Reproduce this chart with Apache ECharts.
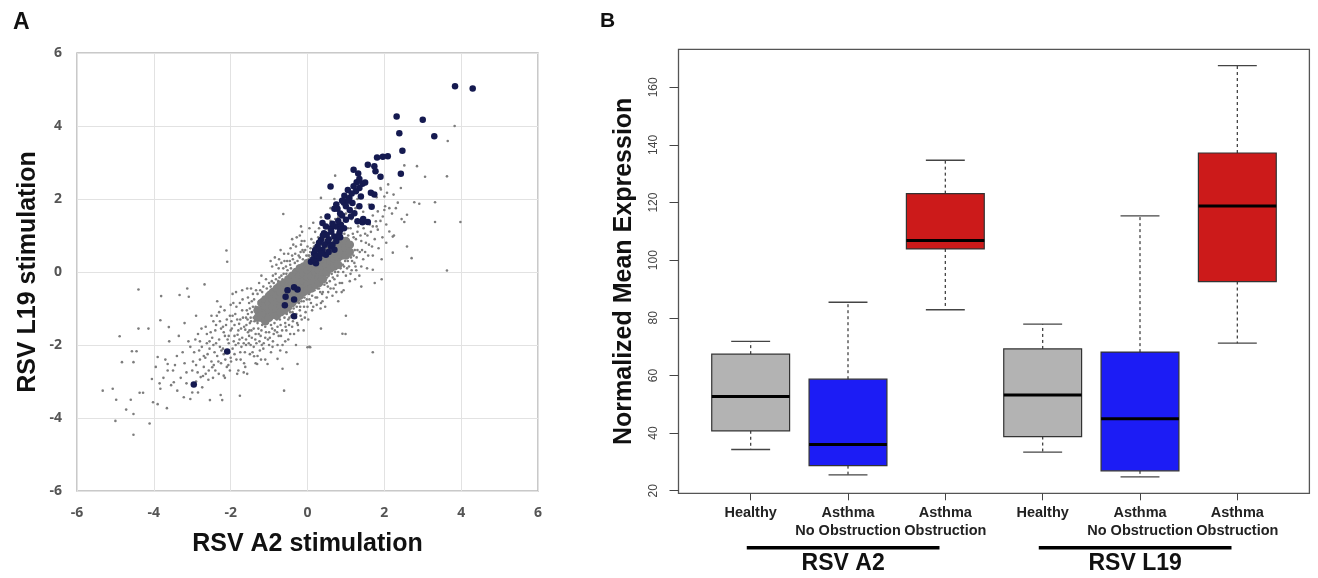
<!DOCTYPE html>
<html>
<head>
<meta charset="utf-8">
<script src="https://cdn.jsdelivr.net/npm/echarts@6/dist/echarts.min.js"></script>
<style>
html,body{margin:0;padding:0;background:#fff;}
#chart{width:1318px;height:578px;}
</style>
</head>
<body>
<div id="chart"></div>
<script>
// ---------- Panel A data (log-fold change, RSV A2 vs RSV L19) ----------
const greyPoints = [
  [3.83,4.0],[3.65,3.59],[2.52,2.92],[2.85,2.9],[3.06,2.61],[3.63,2.62],[2.43,2.3],[2.78,1.91],[2.91,1.87],
  [2.59,1.57],[3.32,1.91],[3.32,1.37],[3.98,1.37],[2.24,2.12],[2.3,1.75],[2.52,1.37],[2.13,1.11],[2.22,0.97],
  [2.59,0.7],[2.71,0.38],[2.22,0.53],[1.93,0.35],[1.7,0.06],[1.93,-0.2],[3.63,0.04],[0.72,2.64],[0.35,2.03],
  [0.7,2.0],[0.74,1.89],[1.91,2.26],[2.0,2.07],[2.07,2.17],[2.02,1.8],[2.13,1.75],[1.83,1.66],[1.96,1.52],
  [1.78,1.39],[1.7,1.25],[1.83,1.16],[-0.63,1.59],[-0.17,1.25],[1.7,-2.2],[0.99,-1.7],[1.0,-1.2],
  [-2.11,0.59],[-2.09,0.28],[-4.4,-0.48],[-3.81,-0.66],[-4.89,-1.76],[-4.4,-1.55],[-4.14,-1.55],[-4.57,-2.17],
  [-4.45,-2.17],[-4.83,-2.47],[-4.53,-2.47],[-5.33,-3.25],[-5.07,-3.2],[-4.98,-3.5],[-4.6,-3.5],[-4.72,-3.77],
  [-4.53,-3.89],[-5.0,-4.08],[-4.11,-4.15],[-4.53,-4.46],[-4.37,-3.31],[-4.28,-3.31],[-4.05,-2.93],[-4.02,-3.57],
  [-3.9,-3.62],[-3.66,-3.73],[-3.9,-2.33],[-3.64,-2.52],[-3.64,-2.7],[-3.83,-1.32],[-3.61,-1.51],[-3.33,-0.63],
  [-3.13,-0.45],[-3.09,-0.68],[-2.68,-0.34],[-3.85,-3.05],[-3.83,-3.2],[-3.48,-3.02],[-3.39,-3.25],[-3.22,-3.43],
  [-3.05,-3.48],[-2.74,-3.16],[-2.54,-3.51],[-2.26,-3.37],[-2.22,-3.51],[-1.76,-3.39],[-0.61,-3.25],
  [-2.78,-2.88],[-2.65,-2.79],[-2.57,-2.7],[-2.48,-2.61],[-2.31,-2.79],[-2.18,-2.84],[-2.02,-2.7],[-1.83,-2.79],
  [-1.66,-2.75],[-1.57,-2.79],[-1.39,-2.31],[-1.31,-2.52],[-1.04,-2.52],[-0.78,-2.38],[-0.65,-2.65],[-0.26,-2.52],
  [0.0,-2.06],[0.07,-2.06],[0.91,-1.69],[0.35,-1.55],
  [-3.4,-2.3],[-3.3,-2.9],[-3.2,-2.5],[-3.1,-1.9],[-3.0,-2.7],[-2.95,-2.2],[-2.9,-3.0],[-2.85,-1.7],[-2.8,-2.4],
  [-2.75,-2.05],[-2.7,-2.6],[-2.65,-1.5],[-2.6,-2.25],[-2.55,-1.9],[-2.5,-2.45],[-2.5,-1.2],[-3.6,-1.9],[-3.5,-2.7],
  [-3.7,-2.4],[-3.2,-1.4],[-2.9,-1.2],[-3.0,-3.3],
  [-2.45,-2.0],[-2.4,-1.6],[-2.4,-2.7],[-2.35,-2.3],[-2.3,-1.85],[-2.3,-1.1],[-2.25,-2.5],[-2.2,-1.5],[-2.2,-2.1],
  [-2.15,-1.75],[-2.1,-2.6],[-2.1,-1.3],[-2.05,-1.95],[-2.0,-1.6],[-2.0,-2.35],[-2.0,-0.9],[-2.45,-1.35],[-2.35,-0.8],
  [-2.15,-2.9],[-2.25,-1.55],
  [-1.95,-1.2],[-1.95,-2.1],[-1.9,-1.75],[-1.9,-1.45],[-1.85,-2.4],[-1.85,-0.95],[-1.8,-1.6],[-1.8,-1.95],[-1.75,-1.3],
  [-1.75,-2.2],[-1.7,-1.05],[-1.7,-1.8],[-1.65,-1.5],[-1.65,-2.5],[-1.6,-1.25],[-1.6,-2.0],[-1.55,-0.7],[-1.55,-1.65],
  [-1.5,-1.4],[-1.5,-2.25],[-1.5,-1.0],[-1.95,-0.6],[-1.8,-2.7],[-1.7,-0.5],[-1.6,-1.85],[-1.55,-1.15],
  [-1.45,-1.8],[-1.45,-0.8],[-1.4,-1.25],[-1.4,-1.55],[-1.4,-2.05],[-1.35,-0.95],[-1.35,-1.7],[-1.3,-0.6],[-1.3,-1.4],
  [-1.3,-2.3],[-1.25,-1.1],[-1.25,-1.9],[-1.2,-0.75],[-1.2,-1.6],[-1.2,-1.3],[-1.15,-0.4],[-1.15,-2.1],[-1.1,-1.0],
  [-1.1,-1.5],[-1.1,-1.8],[-1.05,-0.65],[-1.05,-1.25],[-1.0,-0.3],[-1.0,-1.65],[-1.0,-0.9],[-1.45,-1.1],[-1.35,-2.5],
  [-1.2,-0.1],[-1.1,-2.4],[-1.0,-2.0],
  [-0.95,-1.45],[-0.95,-0.5],[-0.9,-1.15],[-0.9,-1.9],[-0.9,-0.1],[-0.85,-0.75],[-0.85,-1.6],[-0.8,-0.35],[-0.8,-1.3],
  [-0.75,0.1],[-0.75,-1.75],[-0.7,-0.55],[-0.7,-1.45],[-0.65,-0.2],[-0.65,-2.0],[-0.6,-1.25],[-0.6,0.3],[-0.55,-1.6],
  [-0.55,-0.05],[-0.5,-1.3],[-0.5,0.5],[-0.5,-1.85],[-0.85,0.4],[-0.7,0.6],[-0.6,-1.0],[-0.95,-2.2],
  [-0.45,0.2],[-0.45,-1.1],[-0.4,-1.5],[-0.4,0.45],[-0.35,-0.15],[-0.35,-1.7],[-0.3,0.7],[-0.3,-1.25],[-0.25,0.1],
  [-0.25,-1.45],[-0.2,0.4],[-0.2,-1.05],[-0.15,0.85],[-0.15,-1.3],[-0.1,-0.8],[-0.1,0.55],[-0.05,-1.1],[-0.05,0.25],
  [0.0,-0.95],[0.0,0.7],[-0.2,1.0],[-0.4,0.9],[-0.1,-1.6],[-0.3,-2.0],[0.05,-2.05],
  [0.05,0.45],[0.05,-0.75],[0.1,-0.5],[0.1,0.9],[0.15,-0.95],[0.15,0.6],[0.2,-0.3],[0.2,1.1],[0.25,-0.7],[0.25,0.8],
  [0.3,-0.45],[0.3,1.2],[0.35,-0.15],[0.35,-0.85],[0.4,0.95],[0.4,-0.55],[0.45,0.05],[0.45,1.3],[0.5,-0.3],[0.5,0.9],
  [0.5,-0.7],[0.15,1.35],[0.35,1.5],[0.05,1.2],
  [0.55,1.15],[0.55,-0.1],[0.6,-0.45],[0.6,1.4],[0.65,0.05],[0.65,1.0],[0.7,-0.2],[0.7,1.25],[0.75,0.2],[0.75,-0.55],
  [0.8,1.5],[0.8,0.0],[0.85,0.35],[0.85,1.1],[0.9,-0.3],[0.9,1.35],[0.95,0.15],[0.95,0.85],[1.0,1.6],[1.0,-0.1],
  [0.6,1.75],[0.7,1.85],[0.8,-0.8],[0.95,0.5],
  [1.05,0.3],[1.05,1.2],[1.1,0.7],[1.1,-0.25],[1.15,1.45],[1.15,0.05],[1.2,0.95],[1.2,0.45],[1.25,1.75],[1.25,0.15],
  [1.3,1.1],[1.3,0.6],[1.35,1.4],[1.35,-0.1],[1.4,0.85],[1.45,1.65],[1.45,0.35],[1.5,1.05],[1.5,0.55],[1.1,1.9],
  [1.3,2.0],[1.4,-0.4],
  [1.55,1.35],[1.55,0.1],[1.6,1.85],[1.6,0.75],[1.65,1.1],[1.7,0.45],[1.7,1.55],[1.75,0.9],[1.8,1.25],[1.8,2.05],
  [1.85,0.65],[1.9,1.4],[1.95,0.95],[2.0,1.7],[1.65,2.2],[1.75,-0.3],[1.9,2.3],
  [2.05,1.3],[2.1,2.4],[2.2,1.6],[2.25,1.0],[2.35,1.9],[2.45,1.45],[2.05,0.8],
  [-1.98,-1.35],[-1.92,-1.9],[-1.88,-1.15],[-1.82,-1.72],[-1.78,-1.42],[-1.72,-2.05],[-1.68,-1.25],[-1.62,-1.58],
  [-1.58,-1.05],[-1.52,-1.75],[-1.9,-2.25],[-1.76,-0.85],[-1.66,-1.95],[-1.56,-1.3],[-1.52,-0.85],[-2.05,-1.75],
  [-2.12,-1.45],[-2.18,-2.25],[-2.28,-2.05],[-2.38,-1.45],[-2.42,-2.2],[-2.55,-2.1],[-2.62,-1.7],[-2.7,-2.3],
  [-2.8,-1.9],[-2.9,-2.55],
  [-1.48,-1.25],[-1.46,-1.6],[-1.42,-0.95],[-1.38,-1.35],[-1.36,-1.85],[-1.32,-1.15],[-1.28,-1.55],[-1.26,-0.8],
  [-1.22,-1.75],[-1.18,-1.45],[-1.16,-0.95],[-1.12,-1.25],[-1.08,-1.65],[-1.06,-0.45],[-1.04,-1.4],[-1.02,-0.75],
  [-1.48,-2.0],[-1.42,-0.6],[-1.24,-2.15],[-1.14,-1.95],[-1.34,-0.5],[-1.18,-0.55],
  [-0.98,-1.3],[-0.96,-0.4],[-0.92,-1.55],[-0.88,-0.3],[-0.86,-1.4],[-0.82,-0.2],[-0.78,-1.5],[-0.76,-0.25],
  [-0.72,-1.3],[-0.68,-0.1],[-0.66,-1.6],[-0.62,-0.05],[-0.58,-1.4],[-0.56,0.15],[-0.54,-1.15],[-0.52,0.05],
  [-0.98,-1.8],[-0.88,-1.7],[-0.78,-2.0],[-0.68,0.25],[-0.58,-1.9],[-0.92,0.15],[-0.74,0.35],
  [-0.48,-1.05],[-0.46,0.3],[-0.42,-1.2],[-0.38,0.35],[-0.36,-1.0],[-0.32,0.5],[-0.28,-0.95],[-0.26,0.3],
  [-0.22,-0.85],[-0.18,0.55],[-0.16,-0.8],[-0.12,0.35],[-0.08,-0.7],[-0.06,0.6],[-0.02,-0.75],[-0.48,-1.45],
  [-0.38,-1.35],[-0.28,0.95],[-0.18,-1.2],[-0.08,0.85],[-0.44,0.65],[-0.24,-1.6],
  [0.02,0.45],[0.04,-0.6],[0.08,0.65],[0.12,-0.65],[0.16,0.8],[0.18,-0.5],[0.22,0.6],[0.26,-0.45],[0.28,0.95],
  [0.32,-0.35],[0.36,0.75],[0.38,-0.6],[0.42,0.9],[0.44,-0.35],[0.48,0.75],[0.12,-1.05],[0.24,-0.9],[0.34,-1.0],
  [0.46,-0.95],[0.02,-1.3],
  [0.52,0.05],[0.56,0.75],[0.58,-0.25],[0.62,0.9],[0.66,-0.15],[0.68,0.85],[0.72,0.0],[0.76,1.0],[0.78,-0.1],
  [0.82,0.95],[0.86,0.1],[0.88,1.2],[0.92,0.2],[0.96,1.05],[0.98,0.3],[0.54,-0.55],[0.68,-0.45],[0.84,-0.3],
  [0.94,-0.5],[0.72,1.45],
  [1.02,0.45],[1.06,1.0],[1.08,0.15],[1.12,1.2],[1.16,0.3],[1.18,1.05],[1.22,0.25],[1.26,0.9],[1.28,0.4],
  [1.32,1.25],[1.36,0.55],[1.38,1.0],[1.42,0.6],[1.46,1.2],[1.52,0.8],[1.56,1.0],[1.12,-0.05],[1.24,-0.2],
  [1.4,0.15],[1.58,0.45],[1.62,1.3],[1.68,0.7],
  [-2.98,-2.45],[-2.92,-1.85],[-2.86,-2.75],[-2.82,-2.15],[-2.76,-1.55],[-2.72,-2.85],[-2.66,-2.35],[-2.62,-1.95],
  [-2.58,-2.95],[-2.52,-1.65],[-3.05,-2.05],[-3.15,-2.75],[-3.25,-2.2],[-3.35,-1.75],[-3.45,-2.55],[-3.55,-3.1],
  [-3.15,-3.05],[-2.85,-3.3],[-3.75,-2.9],[-3.95,-2.6],
  [-2.48,-1.8],[-2.44,-2.55],[-2.38,-1.95],[-2.32,-2.45],[-2.28,-1.35],[-2.24,-2.15],[-2.18,-1.65],[-2.14,-2.4],
  [-2.08,-1.85],[-2.04,-2.2],[-2.02,-1.2],[-2.36,-1.2],[-2.26,-0.95],[-2.06,-2.55],[-2.46,-2.9],[-2.16,-1.05],
  [-1.97,-1.55],[-1.93,-0.85],[-1.87,-2.0],[-1.83,-1.3],[-1.77,-1.85],[-1.73,-1.55],[-1.69,-0.75],[-1.63,-2.2],
  [-1.59,-1.45],[-1.53,-1.95],[-1.51,-1.6],[-1.99,-2.45],[-1.86,-0.55],[-1.74,-2.4],[-1.57,-0.45],[-1.62,-2.6],
  [-1.47,-1.35],[-1.43,-2.2],[-1.39,-0.75],[-1.33,-1.95],[-1.29,-1.0],[-1.27,-1.7],[-1.23,-0.5],[-1.19,-2.0],
  [-1.13,-0.7],[-1.09,-1.35],[-1.03,-1.85],[-1.01,-0.55],[-1.47,-0.45],[-1.26,-0.3],[-1.08,-0.2],[-1.21,-2.4],
  [-0.97,-1.0],[-0.93,-0.25],[-0.87,-1.25],[-0.83,-0.05],[-0.79,-1.65],[-0.73,-0.15],[-0.69,-1.75],[-0.63,0.1],
  [-0.57,-1.5],[-0.53,0.3],[-0.91,-2.05],[-0.81,0.2],[-0.71,-2.15],[-0.61,0.5],[-0.96,0.3],[-0.55,-2.2],
  [-0.47,-1.25],[-0.43,0.1],[-0.39,-1.1],[-0.33,0.25],[-0.29,-1.15],[-0.23,0.45],[-0.19,-0.95],[-0.13,0.6],
  [-0.09,-0.95],[-0.03,0.45],[-0.37,0.75],[-0.27,-1.4],[-0.17,0.75],[-0.07,-1.25],[-0.45,-1.7],[-0.14,1.1],
  [0.03,-0.45],[0.07,0.55],[0.13,-0.3],[0.17,0.7],[0.23,-0.25],[0.27,0.55],[0.33,-0.55],[0.37,0.6],[0.43,-0.15],
  [0.47,0.55],[0.53,-0.4],[0.57,0.35],[0.09,-0.85],[0.21,-0.7],[0.39,-0.8],[0.51,-0.15],
  [0.63,-0.05],[0.67,0.55],[0.73,-0.35],[0.77,0.3],[0.83,0.15],[0.87,0.7],[0.93,0.0],[0.97,0.6],[1.03,0.1],
  [1.07,0.55],[1.13,0.4],[1.17,0.75],[1.23,0.6],[1.27,0.05],[0.65,-0.65],[0.89,-0.55]
];
const corePoints = [
  [-1.3,-1.05],[-1.3,-1.25],[-1.2,-0.85],[-1.2,-1.05],[-1.2,-1.25],[-1.1,-0.75],[-1.1,-0.95],[-1.1,-1.15],[-1.1,-1.35],
  [-1.0,-0.65],[-1.0,-0.85],[-1.0,-1.05],[-1.0,-1.25],[-0.9,-0.55],[-0.9,-0.75],[-0.9,-0.95],[-0.9,-1.15],
  [-0.8,-0.45],[-0.8,-0.65],[-0.8,-0.85],[-0.8,-1.05],[-0.8,-1.2],[-0.7,-0.35],[-0.7,-0.55],[-0.7,-0.75],[-0.7,-0.95],
  [-0.7,-1.1],[-0.6,-0.3],[-0.6,-0.5],[-0.6,-0.7],[-0.6,-0.9],[-0.6,-1.05],[-0.5,-0.2],[-0.5,-0.4],[-0.5,-0.6],
  [-0.5,-0.8],[-0.5,-0.95],[-0.4,-0.1],[-0.4,-0.3],[-0.4,-0.5],[-0.4,-0.7],[-0.4,-0.85],[-0.3,0.0],[-0.3,-0.2],
  [-0.3,-0.4],[-0.3,-0.6],[-0.3,-0.75],[-0.2,0.1],[-0.2,-0.1],[-0.2,-0.3],[-0.2,-0.5],[-0.2,-0.65],[-0.1,0.15],
  [-0.1,-0.05],[-0.1,-0.25],[-0.1,-0.45],[-0.1,-0.55],[0.0,0.25],[0.0,0.05],[0.0,-0.15],[0.0,-0.35],[0.0,-0.5],
  [0.1,0.3],[0.1,0.1],[0.1,-0.1],[0.1,-0.3],[0.1,-0.45],[0.2,0.4],[0.2,0.2],[0.2,0.0],[0.2,-0.2],[0.2,-0.35],
  [0.3,0.45],[0.3,0.25],[0.3,0.05],[0.3,-0.15],[0.3,-0.3],[0.4,0.55],[0.4,0.35],[0.4,0.15],[0.4,-0.05],[0.4,-0.2],
  [0.5,0.6],[0.5,0.4],[0.5,0.2],[0.5,0.0],[0.6,0.7],[0.6,0.5],[0.6,0.3],[0.6,0.1],[0.7,0.75],[0.7,0.55],[0.7,0.35],
  [0.7,0.15],[0.8,0.8],[0.8,0.6],[0.8,0.4],[0.8,0.2],[0.9,0.85],[0.9,0.65],[0.9,0.45],[1.0,0.85],[1.0,0.65],
  [1.0,0.45],[1.1,0.75],[1.1,0.55]
];
const navyPoints = [
  [3.84,5.09],[4.30,5.03],[2.32,4.26],[3.0,4.17],[2.39,3.8],[3.3,3.72],[2.47,3.32],[1.81,3.14],[1.96,3.16],[2.09,3.17],
  [1.57,2.94],[1.74,2.9],[1.77,2.76],[1.9,2.61],[2.43,2.69],[1.2,2.8],[1.32,2.7],[0.6,2.34],[1.28,2.46],[1.43,2.42],
  [1.35,2.3],[1.26,2.21],[1.65,2.17],[1.74,2.12],[0.96,2.09],[1.09,2.03],[1.39,2.07],[1.17,1.89],[1.35,1.8],[1.0,1.8],
  [0.7,1.73],[0.78,1.73],[1.67,1.79],[1.43,1.36],[1.57,1.37],[1.3,1.39],[0.52,1.52],[0.39,1.34],[0.48,1.25],[0.61,1.2],
  [0.74,1.25],[0.87,1.29],[1.0,1.43],[1.13,1.52],[1.22,1.61],[0.43,1.06],[0.35,0.88],[0.52,0.83],[0.7,0.97],[0.83,1.06],
  [0.26,0.7],[0.39,0.61],[0.61,0.7],[0.17,0.51],[0.3,0.38],[0.09,0.28],[0.48,0.47],[0.7,0.61],[0.22,0.24],
  [0.15,0.35],[0.25,0.45],[0.3,0.62],[0.45,0.75],[0.55,0.9],[0.5,1.02],[0.62,1.1],[0.65,1.32],[0.8,1.4],[0.85,1.6],
  [0.9,1.55],[0.95,1.9],[1.05,1.95],[1.1,1.7],[1.15,2.15],[1.2,2.35],[1.05,2.25],[0.75,1.85],[0.85,1.15],[0.95,1.2],
  [0.55,0.55],[0.35,0.5],[0.2,0.6],[0.65,0.75],[0.75,0.85],[0.4,1.0],[0.3,0.8],[1.35,2.55],[1.5,2.45],[0.9,1.95],
  [1.45,1.45],[0.85,0.95],
  [-0.52,-0.5],[-0.35,-0.42],[-0.26,-0.48],[-0.57,-0.68],[-0.59,-0.91],[-0.35,-0.75],[-0.35,-1.21],[-2.09,-2.18],[-2.96,-3.08]
];
const axisTicksA = [-6,-4,-2,0,2,4,6];

// ---------- Panel B data (boxplots) ----------
const categories = ['Healthy','Asthma\nNo Obstruction','Asthma\nObstruction','Healthy','Asthma\nNo Obstruction','Asthma\nObstruction'];
const whiskerLow  = [34.3, 25.5, 82.8, 33.4, 24.8, 71.2];
const quartile1   = [40.8, 28.7, 103.9, 38.8, 26.9, 92.6];
const medians     = [52.7, 36.0, 106.8, 53.2, 45.0, 118.8];
const quartile3   = [67.4, 58.7, 123.1, 69.2, 68.1, 137.2];
const whiskerHigh = [71.8, 85.4, 134.7, 77.8, 115.4, 167.5];
const outliers    = [[2, 153.5]];
const groupNames  = ['RSV A2', 'RSV L19'];
const groupStart  = [0, 3];
const groupEnd    = [2, 5];
const yTicksB     = [20, 40, 60, 80, 100, 120, 140, 160];

// ---------- styles ----------
const boxColors = ['#b3b3b3', '#1c1cf5', '#cc1a1a', '#b3b3b3', '#1c1cf5', '#cc1a1a'];
const FONT = '"Liberation Sans", Arial, sans-serif';

const boxData = categories.map((c, i) => [i, whiskerLow[i], quartile1[i], medians[i], quartile3[i], whiskerHigh[i]]);
const groupData = groupNames.map((g, k) => [groupStart[k], groupEnd[k], k]);

const chart = echarts.init(document.getElementById('chart'), null, {renderer: 'canvas'});

const option = {
  animation: false,
  backgroundColor: '#ffffff',
  title: [
    {text: 'A', left: 8, top: 6, textStyle: {fontFamily: FONT, fontWeight: 'bold', fontSize: 23, color: '#111'}},
    {text: 'B', left: 595, top: 6, textStyle: {fontFamily: FONT, fontWeight: 'bold', fontSize: 21, color: '#111'}}
  ],
  grid: [
    {left: 77, right: 780, top: 53, bottom: 87, show: true, borderColor: '#b8b8b8', borderWidth: 1.5, backgroundColor: 'transparent'},
    {left: 678.5, right: 8.6, top: 49.3, bottom: 84.7, show: true, borderColor: '#555', borderWidth: 1.3, backgroundColor: 'transparent'},
    {left: 702, right: 32, top: 49.3, bottom: 84.7}
  ],
  xAxis: [
    {
      type: 'value', gridIndex: 0, min: -6, max: 6, interval: 2,
      name: 'RSV A2 stimulation', nameLocation: 'middle', nameGap: 41,
      nameTextStyle: {fontFamily: FONT, fontWeight: 'bold', fontSize: 25, color: '#111'},
      axisLine: {show: false}, axisTick: {show: false},
      axisLabel: {margin: 15, fontFamily: '"Open Sans", sans-serif', fontWeight: 'bold', fontSize: 14, color: '#555', customValues: axisTicksA},
      splitLine: {show: true, lineStyle: {color: '#e2e2e2', width: 1}}
    },
    {type: 'value', gridIndex: 1, show: false, min: 0, max: 1},
    {
      type: 'category', gridIndex: 2, data: categories, boundaryGap: true,
      axisLine: {show: false},
      axisTick: {show: true, alignWithLabel: true, length: 7, lineStyle: {color: '#444', width: 1}},
      axisLabel: {margin: 11, interval: 0, fontFamily: FONT, fontWeight: 'bold', fontSize: 14.5, lineHeight: 17.5, color: '#222'},
      splitLine: {show: false}
    }
  ],
  yAxis: [
    {
      type: 'value', gridIndex: 0, min: -6, max: 6, interval: 2,
      name: 'RSV L19 stimulation', nameLocation: 'middle', nameGap: 36,
      nameTextStyle: {fontFamily: FONT, fontWeight: 'bold', fontSize: 25, color: '#111'},
      axisLine: {show: false}, axisTick: {show: false},
      axisLabel: {margin: 15, fontFamily: '"Open Sans", sans-serif', fontWeight: 'bold', fontSize: 14, color: '#555'},
      splitLine: {show: true, lineStyle: {color: '#e2e2e2', width: 1}}
    },
    {type: 'value', gridIndex: 1, show: false, min: 0, max: 1},
    {
      type: 'value', gridIndex: 2, min: 19.1, max: 173.2, offset: 23.5,
      name: 'Normalized Mean Expression', nameLocation: 'middle', nameGap: 42,
      nameTextStyle: {fontFamily: FONT, fontWeight: 'bold', fontSize: 25, color: '#111'},
      axisLine: {show: false},
      axisTick: {show: true, length: 9, customValues: yTicksB, lineStyle: {color: '#444', width: 1}},
      axisLabel: {margin: 19, rotate: 90, fontFamily: FONT, fontSize: 12, color: '#444', customValues: yTicksB},
      splitLine: {show: false}
    }
  ],
  series: [
    {
      type: 'scatter', xAxisIndex: 0, yAxisIndex: 0, data: greyPoints, symbolSize: 2.6, silent: true,
      itemStyle: {color: '#7d7d7d', opacity: 1}
    },
    {
      type: 'scatter', xAxisIndex: 0, yAxisIndex: 0, data: corePoints, symbolSize: 8.5, silent: true,
      itemStyle: {color: '#828282', opacity: 1}
    },
    {
      type: 'scatter', xAxisIndex: 0, yAxisIndex: 0, data: navyPoints, symbolSize: 6.5, silent: true,
      itemStyle: {color: '#151a50', opacity: 1}
    },
    {
      type: 'custom', xAxisIndex: 2, yAxisIndex: 2, data: boxData, silent: true,
      encode: {x: 0, y: [1, 2, 3, 4, 5]},
      renderItem: function (params, api) {
        const i = api.value(0);
        const cx = api.coord([i, api.value(3)])[0];
        const yLo = api.coord([i, api.value(1)])[1];
        const yQ1 = api.coord([i, api.value(2)])[1];
        const yMed = api.coord([i, api.value(3)])[1];
        const yQ3 = api.coord([i, api.value(4)])[1];
        const yHi = api.coord([i, api.value(5)])[1];
        const bw = api.size([1, 0])[0];
        const half = bw * 0.4;
        const cap = half * 0.5;
        const wStyle = {stroke: '#444', lineWidth: 1.3, lineDash: [3, 3]};
        const cStyle = {stroke: '#444', lineWidth: 1.3};
        return {
          type: 'group',
          children: [
            {type: 'line', shape: {x1: cx, y1: yQ3, x2: cx, y2: yHi}, style: wStyle},
            {type: 'line', shape: {x1: cx, y1: yQ1, x2: cx, y2: yLo}, style: wStyle},
            {type: 'line', shape: {x1: cx - cap, y1: yHi, x2: cx + cap, y2: yHi}, style: cStyle},
            {type: 'line', shape: {x1: cx - cap, y1: yLo, x2: cx + cap, y2: yLo}, style: cStyle},
            {type: 'rect', shape: {x: cx - half, y: yQ3, width: half * 2, height: yQ1 - yQ3},
              style: {fill: boxColors[i], stroke: '#333', lineWidth: 1.2}},
            {type: 'line', shape: {x1: cx - half, y1: yMed, x2: cx + half, y2: yMed},
              style: {stroke: '#000', lineWidth: 3}}
          ]
        };
      }
    },
    {
      type: 'scatter', xAxisIndex: 2, yAxisIndex: 2, data: outliers, symbol: 'emptyCircle', symbolSize: 7, silent: true,
      itemStyle: {color: '#fff', borderColor: '#444', borderWidth: 1.2, opacity: 1}
    },
    {
      type: 'custom', xAxisIndex: 2, yAxisIndex: 2, data: groupData, silent: true, clip: false,
      encode: {x: [0, 1], y: 2},
      renderItem: function (params, api) {
        const bw = api.size([1, 0])[0];
        const x1 = api.coord([api.value(0), 20])[0] - 0.04 * bw;
        const x2 = api.coord([api.value(1), 20])[0] - 0.06 * bw;
        const bottom = params.coordSys.y + params.coordSys.height;
        const k = api.value(2);
        return {
          type: 'group',
          children: [
            {type: 'line', shape: {x1: x1, y1: bottom + 54.5, x2: x2, y2: bottom + 54.5}, style: {stroke: '#000', lineWidth: 3.5}},
            {type: 'text', style: {text: groupNames[k], x: (x1 + x2) / 2, y: bottom + 70, align: 'center', verticalAlign: 'middle',
              fontFamily: FONT, fontWeight: 'bold', fontSize: 23, fill: '#111'}}
          ]
        };
      }
    }
  ]
};
chart.setOption(option);
</script>
</body>
</html>
